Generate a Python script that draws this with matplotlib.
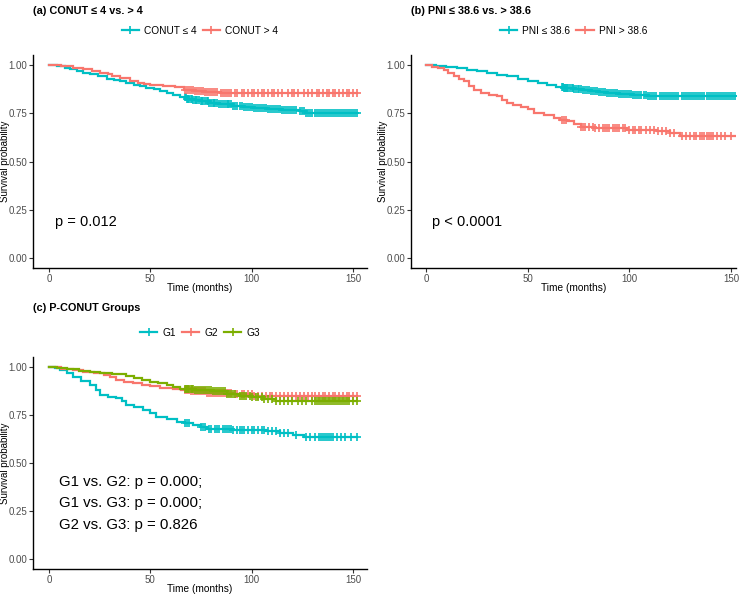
import numpy as np
import matplotlib
matplotlib.use("Agg")
import matplotlib.pyplot as plt
from matplotlib.lines import Line2D

plt.rcParams["font.family"] = ["Liberation Sans", "DejaVu Sans"]

RED = "#F8766D"
CYAN = "#00BFC4"
GREEN = "#7CAE00"

# ---------------- Panel (a): CONUT <= 4 vs > 4 ----------------
a_low_t = [0, 4, 8, 10.4, 14, 17, 20, 24, 28.4, 32, 35, 38, 42, 45, 48, 52, 55, 58, 61, 64.6, 67.9, 71, 74.5, 79, 84, 90.8, 96, 101, 107.4, 115, 123.8, 127]
a_low_s = [1.0, 0.995, 0.985, 0.976, 0.965, 0.957, 0.95, 0.94, 0.926, 0.92, 0.916, 0.905, 0.897, 0.89, 0.881, 0.872, 0.864, 0.855, 0.845, 0.833, 0.822, 0.816, 0.812, 0.802, 0.795, 0.786, 0.779, 0.774, 0.769, 0.764, 0.76, 0.751]
a_low_c = [67, 67.5, 68, 68.5, 69, 70, 70.5, 71, 72, 72.5, 73, 74, 75, 75.5, 76, 77, 78, 78.5, 79, 80, 81, 81.5, 82, 83, 84, 85, 86, 87, 88, 88.5, 89, 90, 91, 92, 93, 94, 95, 96, 97, 98, 99, 100, 101, 102, 103, 104, 105, 106, 107, 108, 109, 110, 111, 112, 113, 114, 115, 116, 117, 118, 119, 120, 121, 122, 124, 125, 126, 127, 128, 129, 130, 131, 132, 133, 134, 135, 136, 137, 138, 139, 140, 141, 142, 143, 144, 145, 146, 147, 148, 149, 150, 151, 152]

a_high_t = [0, 6, 12, 17, 21, 25, 29, 31, 35, 40, 44, 47, 50, 56, 62, 66.5, 72, 77, 85]
a_high_s = [1.0, 0.992, 0.984, 0.976, 0.965, 0.957, 0.952, 0.94, 0.93, 0.918, 0.905, 0.9, 0.896, 0.89, 0.884, 0.87, 0.864, 0.857, 0.853]
a_high_c = [67, 68, 69, 70, 71, 72, 73, 74, 75, 76, 77, 78, 79, 80, 81, 82, 83, 85, 86, 87, 88, 89, 90, 92, 93, 95, 96, 98, 100, 101, 103, 105, 106, 108, 110, 111, 113, 115, 118, 120, 121, 123, 126, 128, 130, 132, 133, 135, 137, 138, 140, 141, 143, 145, 147, 148, 150, 152]

# ---------------- Panel (b): PNI <= 38.6 vs > 38.6 ----------------
b_low_t = [0, 5, 10, 15.4, 20, 25, 30, 35, 40, 45, 50, 55, 59.7, 64, 68, 73, 77, 81, 85, 89, 95, 102, 109]
b_low_s = [1.0, 0.995, 0.99, 0.983, 0.975, 0.965, 0.957, 0.948, 0.94, 0.927, 0.914, 0.905, 0.896, 0.887, 0.879, 0.872, 0.867, 0.862, 0.857, 0.853, 0.849, 0.845, 0.836]
b_low_c = [67, 67.5, 68, 68.5, 69, 69.5, 70, 71, 72, 72.5, 73, 74, 75, 75.5, 76, 77, 78, 79, 80, 81, 82, 83, 84, 85, 86, 87, 88, 89, 90, 91, 92, 93, 94, 95, 96, 97, 98, 99, 100, 101, 102, 103, 104, 105, 106, 107, 108, 109, 110, 111, 112, 113, 115, 116, 117, 118, 119, 120, 121, 122, 123, 124, 126, 127, 128, 129, 130, 131, 132, 133, 134, 135, 136, 137, 138, 139, 140, 141, 142, 143, 144, 145, 146, 147, 148, 149, 150, 151, 152]

b_high_t = [0, 3, 6, 8.9, 11, 13.8, 16, 18.7, 21, 23.6, 27, 31, 35, 37.5, 40, 43, 46.6, 50, 53, 58, 63, 66, 69.5, 73, 76, 82.6, 99, 113.8, 120, 125]
b_high_s = [1.0, 0.99, 0.982, 0.974, 0.955, 0.94, 0.928, 0.914, 0.89, 0.87, 0.853, 0.845, 0.836, 0.82, 0.802, 0.792, 0.784, 0.77, 0.75, 0.74, 0.724, 0.715, 0.707, 0.695, 0.68, 0.672, 0.663, 0.655, 0.645, 0.632]
b_high_c = [67, 68, 69, 76, 77, 78, 80, 82, 83, 85, 87, 88, 89, 90, 92, 93, 94, 95, 97, 98, 100, 102, 103, 105, 106, 108, 110, 112, 114, 116, 118, 120, 122, 126, 128, 130, 132, 133, 135, 136, 137, 138, 139, 140, 141, 143, 145, 147, 150]

# ---------------- Panel (c): P-CONUT groups ----------------
g1_t = [0, 3, 5.4, 9, 12, 16, 20, 23, 25, 29, 33, 36, 38, 42, 46.5, 50, 53, 58, 63, 67, 71, 75, 78, 91, 107, 114, 120.5, 126]
g1_s = [1.0, 0.992, 0.983, 0.965, 0.948, 0.925, 0.905, 0.88, 0.853, 0.845, 0.836, 0.82, 0.802, 0.79, 0.776, 0.758, 0.741, 0.728, 0.715, 0.706, 0.698, 0.687, 0.676, 0.672, 0.664, 0.655, 0.647, 0.633]
g1_c = [67, 68, 69, 75, 76, 77, 79, 80, 82, 83, 84, 86, 87, 88, 89, 90, 91, 93, 94, 95, 96, 98, 100, 101, 103, 105, 106, 108, 110, 112, 114, 116, 118, 122, 127, 129, 131, 133, 134, 135, 136, 137, 138, 139, 140, 142, 144, 146, 149, 152]

g2_t = [0, 6, 12, 17, 22, 27, 30, 33, 37, 41.6, 46, 50, 55, 61, 65, 69.5, 78, 91, 101]
g2_s = [1.0, 0.99, 0.982, 0.974, 0.965, 0.957, 0.945, 0.931, 0.922, 0.914, 0.905, 0.897, 0.89, 0.883, 0.877, 0.871, 0.864, 0.857, 0.848]
g2_c = [67, 68, 69, 70, 71, 72, 73, 74, 75, 76, 77, 78, 79, 80, 81, 82, 83, 84, 85, 86, 87, 88, 89, 90, 92, 93, 95, 96, 98, 100, 101, 103, 105, 107, 109, 110, 112, 114, 116, 118, 120, 122, 124, 126, 128, 130, 131, 133, 135, 136, 138, 140, 141, 143, 145, 147, 148, 150, 152]

g3_t = [0, 4, 8.7, 15, 20, 25, 31, 38, 42, 46, 50, 54, 58, 61, 64.6, 72, 81, 88, 94, 100, 106, 112]
g3_s = [1.0, 0.995, 0.986, 0.978, 0.972, 0.966, 0.96, 0.952, 0.942, 0.932, 0.922, 0.913, 0.905, 0.894, 0.883, 0.877, 0.871, 0.86, 0.848, 0.84, 0.831, 0.823]
g3_c = [67, 67.5, 68, 68.5, 69, 70, 70.5, 71, 72, 73, 74, 75, 76, 77, 78, 79, 80, 81, 82, 83, 84, 85, 86, 87, 88, 89, 90, 91, 92, 94, 95, 96, 97, 99, 100, 102, 103, 105, 106, 108, 110, 112, 114, 116, 118, 120, 123, 125, 127, 130, 131, 132, 133, 134, 135, 136, 137, 138, 139, 140, 141, 142, 143, 144, 145, 146, 147, 148, 150, 152]

END_T = 152

yticks = [0.0, 0.25, 0.5, 0.75, 1.0]
ytick_labels = ["0.00", "0.25", "0.50", "0.75", "1.00"]
xticks = [0, 50, 100, 150]

W, H = 747, 596
fig = plt.figure(figsize=(W / 100, H / 100), dpi=100)


def px_axes(left, right, top, bottom):
    return fig.add_axes([left / W, (H - bottom) / H, (right - left) / W, (bottom - top) / H])


def km(ax, t, s, cens, color, label):
    tt = list(t) + [END_T]
    ss = list(s) + [s[-1]]
    ax.plot(tt, ss, drawstyle="steps-post", color=color, lw=1.6, solid_joinstyle="miter")
    ct = np.array(cens, dtype=float)
    idx = np.searchsorted(np.array(t), ct, side="right") - 1
    cy = np.array(s)[idx]
    ax.plot(ct, cy, linestyle="none", marker="+", color=color, ms=5.5, mew=1.2)
    return Line2D([], [], color=color, lw=1.6, marker="+", ms=6, mew=1.2, label=label)


def style(ax, xlim, left_px, width_px, height_px):
    ax.set_xlim(*xlim)
    ax.set_ylim(-0.05, 1.05)
    ax.set_xticks(xticks)
    ax.set_yticks(yticks)
    ax.set_yticklabels(ytick_labels)
    for sp in ["top", "right"]:
        ax.spines[sp].set_visible(False)
    for sp in ["left", "bottom"]:
        ax.spines[sp].set_linewidth(1.0)
        ax.spines[sp].set_color("black")
    ax.tick_params(axis="both", direction="out", length=3, width=0.8, color="#333333",
                   labelsize=7.0, labelcolor="#4D4D4D", pad=1.2)
    xl = ax.set_xlabel("Time (months)", fontsize=7.3)
    xl.set_va("center")
    ax.xaxis.set_label_coords(0.5, -20 / height_px)
    yl = ax.set_ylabel("Survival probability", fontsize=7)
    yl.set_va("center")
    ax.yaxis.set_label_coords(-(left_px - 5.0) / width_px, 0.5)


LEG = dict(loc="center", bbox_to_anchor=(0.5, 1.113), frameon=False, fontsize=7.3,
           handlelength=1.7, columnspacing=0.6, handletextpad=0.5)

# Panel (a)
axa = px_axes(33, 367, 55, 268)
h1 = km(axa, a_low_t, a_low_s, a_low_c, CYAN, "CONUT \u2264 4")
h2 = km(axa, a_high_t, a_high_s, a_high_c, RED, "CONUT > 4")
style(axa, (-7.9, 156.9), 33, 334, 213)
axa.text(3, 0.19, "p = 0.012", fontsize=10.5, va="center", ha="left")
axa.legend(handles=[h1, h2], ncol=2, **LEG)
fig.text(33 / W, 1 - 11 / H, "(a) CONUT \u2264 4 vs. > 4", fontsize=7.8, fontweight="bold", va="center", ha="left")

# Panel (b)
axb = px_axes(411, 736, 55, 268)
h1 = km(axb, b_low_t, b_low_s, b_low_c, CYAN, "PNI \u2264 38.6")
h2 = km(axb, b_high_t, b_high_s, b_high_c, RED, "PNI > 38.6")
style(axb, (-7.4, 152.5), 411 - 378, 325, 213)
axb.text(3, 0.19, "p < 0.0001", fontsize=10.5, va="center", ha="left")
axb.legend(handles=[h1, h2], ncol=2, **LEG)
fig.text(411 / W, 1 - 11 / H, "(b) PNI \u2264 38.6 vs. > 38.6", fontsize=7.8, fontweight="bold", va="center", ha="left")

# Panel (c)
axc = px_axes(33, 367, 357, 569)
h1 = km(axc, g1_t, g1_s, g1_c, CYAN, "G1")
h2 = km(axc, g2_t, g2_s, g2_c, RED, "G2")
h3 = km(axc, g3_t, g3_s, g3_c, GREEN, "G3")
style(axc, (-7.9, 156.9), 33, 334, 212)
for yy, txt in zip([0.40, 0.295, 0.18], ["G1 vs. G2: p = 0.000;", "G1 vs. G3: p = 0.000;", "G2 vs. G3: p = 0.826"]):
    axc.text(5, yy, txt, fontsize=10.8, va="center", ha="left")
axc.legend(handles=[h1, h2, h3], ncol=3, **LEG)
fig.text(33 / W, 1 - 308 / H, "(c) P-CONUT Groups", fontsize=7.8, fontweight="bold", va="center", ha="left")

fig.savefig("out.png", dpi=100)
